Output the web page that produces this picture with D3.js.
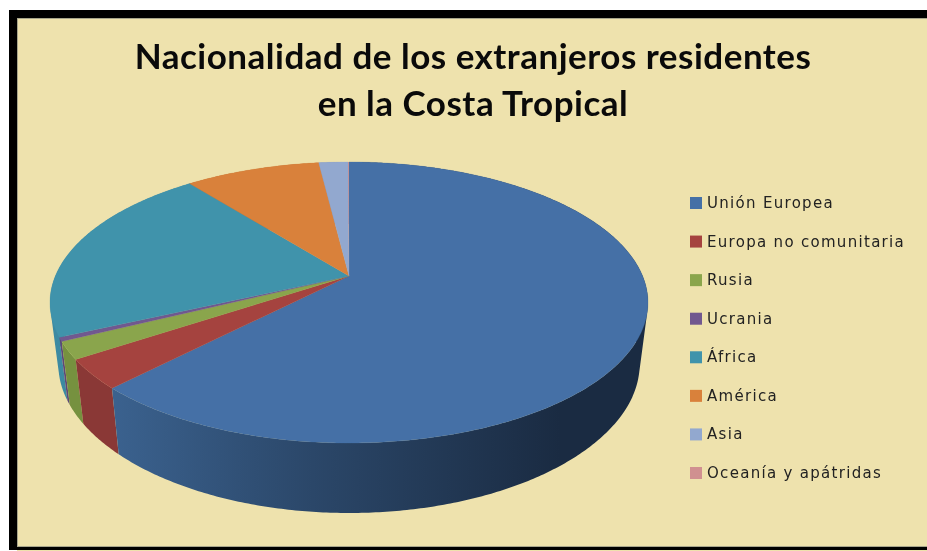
<!DOCTYPE html>
<html><head><meta charset="utf-8">
<script src="https://cdn.jsdelivr.net/npm/d3@7/dist/d3.min.js"></script>
<style>html,body{margin:0;padding:0;background:#fff}svg{display:block;filter:blur(0.45px)}</style>
</head><body><svg id="c" width="927" height="551"></svg>
<script>
const categories = ["Unión Europea","Europa no comunitaria","Rusia","Ucrania","África","América","Asia","Oceanía y apátridas"];
const values = [62.3,3.4,2.0,0.45,21.15,8.75,1.9,0.05];
const topColors = ["#4570a6","#a5433f","#8aa54c","#71588f","#4093ab","#d9813b","#92a8cf","#d09090"];
const wallColors = ["#3a608c","#8a3836","#76913f","#5d4878","#3c8aa2","#b86c30","#7a90b5","#b07a7a"];
const titleLines = ["Nacionalidad de los extranjeros residentes","en la Costa Tropical"];

const svg = d3.select("#c");
const defs = svg.append("defs");
const W=927,H=551;
// frame
svg.append("rect").attr("x",9).attr("y",10).attr("width",W-9).attr("height",540).attr("fill","#000");
svg.append("rect").attr("x",17.5).attr("y",18.5).attr("width",W).attr("height",528).attr("fill","#eee2ad").attr("stroke","#a8a68c").attr("stroke-width",1);
svg.append("rect").attr("x",17).attr("y",550).attr("width",W).attr("height",1).attr("fill","#eee2ad");

// pie with perspective
const cx=349, cy=276, k=0.1886, B=135.5, A=293.6, shrink=0.028;
const project=(a,h=0)=>{
  const u=Math.sin(a), v=Math.cos(a), w=1+k*v;
  const x=A*u/w, y=-B*v/w;
  const drop = v<0 ? 62+8*v*v : 62;
  return [cx+x*(1-shrink*h), cy+y+h*drop];
};
const pie=d3.pie().sort(null).value(d=>d);
const arcs=pie(values);
const samples=(a0,a1)=>{
  const n=Math.max(2,Math.ceil((a1-a0)/0.01));
  return d3.range(n+1).map(i=>a0+(a1-a0)*i/n);
};
const line=d3.line();
const grad=defs.append("linearGradient").attr("id","wallBlue").attr("gradientUnits","userSpaceOnUse")
  .attr("x1",110).attr("x2",560).attr("y1",0).attr("y2",0);
[[0,"#3b628f"],[0.45,"#2b4769"],[1,"#1a2b42"]].forEach(([o,c])=>grad.append("stop").attr("offset",o).attr("stop-color",c));

const g=svg.append("g");
// walls: every sample step is a quad, all wound the same way so the union fills
arcs.slice().reverse().forEach(d=>{
  const s=samples(d.startAngle,d.endAngle);
  const parts=d3.pairs(s).map(([a,b])=>{
    const q=[project(a,0),project(b,0),project(b,1),project(a,1)];
    return d3.polygonArea(q)<0?q.reverse():q;
  }).map(q=>line(q)+"Z").join("");
  const fill=d.index===0?"url(#wallBlue)":wallColors[d.index];
  g.append("path").attr("d",parts).attr("fill",fill).attr("fill-rule","nonzero");
});
// top
arcs.forEach(d=>{
  const s=samples(d.startAngle,d.endAngle);
  const pts=[[cx,cy]].concat(s.map(a=>project(a,0)));
  const p=g.append("path").attr("d",line(pts)+"Z").attr("fill",topColors[d.index]);
  if(d.endAngle-d.startAngle>0.01) p.attr("stroke",topColors[d.index]).attr("stroke-width",0.3);
});
// title
const t=svg.append("g").attr("font-family","Lato,'Open Sans',sans-serif").attr("font-weight",700).attr("fill","#0a0a0a");
titleLines.forEach((l,i)=>t.append("text").attr("x",473).attr("y",[69,116][i]).attr("text-anchor","middle").attr("font-size",35).attr("letter-spacing",0.5).text(l));
// legend
const ly=d3.scalePoint().domain(categories).range([203,473]);
const lg=svg.append("g").selectAll("g").data(categories).join("g").attr("transform",d=>`translate(690,${ly(d)})`);
lg.append("rect").attr("x",0).attr("y",-6).attr("width",12).attr("height",12).attr("fill",(d,i)=>topColors[i]);
lg.append("text").attr("x",17).attr("y",5).attr("font-family","'DejaVu Sans',sans-serif").attr("font-size",15).attr("letter-spacing",1.3).attr("fill","#222").text(d=>d);
</script></body></html>
